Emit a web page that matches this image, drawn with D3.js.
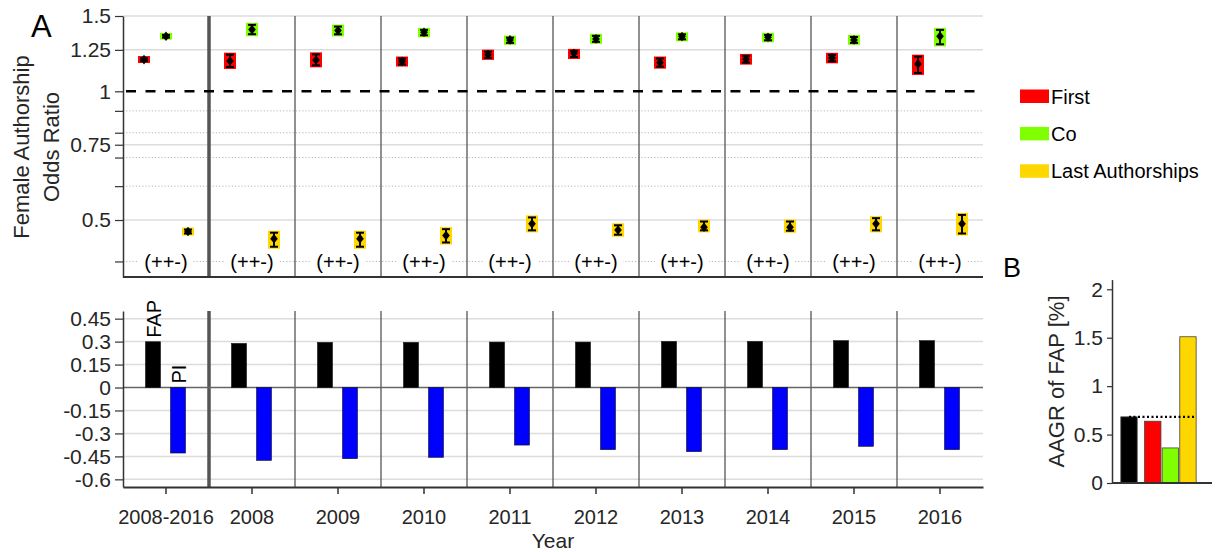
<!DOCTYPE html>
<html><head><meta charset="utf-8">
<script src="https://cdn.jsdelivr.net/npm/d3@7"></script>
<style>
html,body{margin:0;padding:0;background:#fff;}
svg{display:block;font-family:"Liberation Sans",Arial,Helvetica,sans-serif;}
</style></head><body>
<svg id="chart" width="1217" height="552"></svg>
<script>
// ---------------- DATA ----------------
const categories = ["2008-2016","2008","2009","2010","2011","2012","2013","2014","2015","2016"];
const seriesNames = ["First","Co","Last Authorships"];
const seriesColors = ["#ff0000","#80ff00","#ffd700"];

const orFirst   = [1.186, 1.177, 1.184, 1.175, 1.218, 1.227, 1.167, 1.188, 1.197, 1.159];
const orFirstLo = [1.177, 1.140, 1.150, 1.155, 1.197, 1.203, 1.142, 1.167, 1.175, 1.104];
const orFirstHi = [1.196, 1.218, 1.220, 1.193, 1.238, 1.243, 1.193, 1.210, 1.217, 1.205];

const orCo      = [1.345, 1.394, 1.387, 1.374, 1.319, 1.326, 1.343, 1.338, 1.319, 1.345];
const orCoLo    = [1.335, 1.360, 1.359, 1.352, 1.298, 1.305, 1.323, 1.316, 1.298, 1.288];
const orCoHi    = [1.355, 1.430, 1.417, 1.392, 1.335, 1.348, 1.359, 1.355, 1.340, 1.392];

const orLast    = [0.470, 0.452, 0.452, 0.460, 0.490, 0.474, 0.481, 0.481, 0.490, 0.490];
const orLastLo  = [0.465, 0.433, 0.433, 0.443, 0.473, 0.462, 0.473, 0.472, 0.473, 0.465];
const orLastHi  = [0.475, 0.467, 0.467, 0.476, 0.507, 0.486, 0.496, 0.496, 0.505, 0.514];

const signLabels = ["(++-)","(++-)","(++-)","(++-)","(++-)","(++-)","(++-)","(++-)","(++-)","(++-)"];

const orMajorTicks  = [0.5, 0.75, 1, 1.25, 1.5];
const orMajorLabels = ["0.5","0.75","1","1.25","1.5"];
const orMinorTicks  = [0.4, 0.6, 0.7, 0.8, 0.9];

const barNames  = ["FAP","PI"];
const barColors = ["#000000","#0000ff"];
const fapValues = [0.299, 0.288, 0.295, 0.295, 0.297, 0.297, 0.301, 0.301, 0.306, 0.306];
const piValues  = [-0.428, -0.476, -0.465, -0.456, -0.376, -0.406, -0.419, -0.406, -0.384, -0.406];
const barTicks  = [-0.6, -0.45, -0.3, -0.15, 0, 0.15, 0.3, 0.45];
const barTickLabels = ["-0.6","-0.45","-0.3","-0.15","0","0.15","0.3","0.45"];

const aagrNames  = ["All","First","Co","Last"];
const aagrValues = [0.683, 0.638, 0.362, 1.51];
const aagrColors = ["#000000","#ff0000","#80ff00","#ffd700"];
const aagrTicks  = [0, 0.5, 1, 1.5, 2];
const aagrTickLabels = ["0","0.5","1","1.5","2"];

// ---------------- LAYOUT ----------------
const svg = d3.select("#chart");
const textCol = "#262626";
const L = 123, R = 983;
const topY0 = 16, topY1 = 277;
const botY0 = 311, botY1 = 487;

const x = d3.scaleBand().domain(categories).range([L, R]);
const bw = x.bandwidth();
const xc = c => x(c) + bw / 2;
const xSeries = d3.scalePoint().domain(seriesNames).range([-22, 22]);
const xBar = d3.scaleBand().domain(barNames).range([-20.5, 19.5]).paddingInner(0.4);

const yOR = d3.scaleLog().domain([Math.exp(-1), 1.5]).range([topY1, topY0]);
const yBar = d3.scaleLinear().domain([-0.65, 0.5]).range([botY1, botY0]);

// ---------------- TOP PANEL ----------------
const gTop = svg.append("g");
gTop.selectAll("line.gmaj").data(orMajorTicks.filter(v => v !== 1)).enter().append("line")
  .attr("x1", L).attr("x2", R).attr("y1", d => yOR(d)).attr("y2", d => yOR(d))
  .attr("stroke", "#dcdcdc").attr("stroke-width", 1.5);
gTop.selectAll("line.gmin").data(orMinorTicks).enter().append("line")
  .attr("x1", L).attr("x2", R).attr("y1", d => yOR(d)).attr("y2", d => yOR(d))
  .attr("stroke", "#b5b5b5").attr("stroke-width", 1).attr("stroke-dasharray", "1.2,2");
gTop.selectAll("line.sep").data(categories.slice(1)).enter().append("line")
  .attr("x1", d => x(d)).attr("x2", d => x(d)).attr("y1", topY0).attr("y2", topY1)
  .attr("stroke", "#555").attr("stroke-width", (d, i) => i === 0 ? 3.5 : 1.3);
gTop.append("line").attr("x1", L + 3).attr("x2", R - 8).attr("y1", yOR(1)).attr("y2", yOR(1))
  .attr("stroke", "#000").attr("stroke-width", 2.5).attr("stroke-dasharray", "10,9.5");

const sg = gTop.selectAll("g.sign").data(categories).enter().append("g")
  .attr("transform", d => `translate(${xc(d)},${yOR(0.4)})`);
sg.append("rect").attr("x", -27).attr("y", -11).attr("width", 54).attr("height", 22).attr("fill", "#fff");
sg.append("text").attr("text-anchor", "middle").attr("dy", "0.36em")
  .attr("font-size", 20).attr("fill", "#000").text((d, i) => signLabels[i]);

const orSets = [
  {name: seriesNames[0], v: orFirst, lo: orFirstLo, hi: orFirstHi, c: seriesColors[0]},
  {name: seriesNames[1], v: orCo, lo: orCoLo, hi: orCoHi, c: seriesColors[1]},
  {name: seriesNames[2], v: orLast, lo: orLastLo, hi: orLastHi, c: seriesColors[2]}
];
const diamond = {draw(ctx, size){ const w = 3.8, h = 4.8; ctx.moveTo(0,-h); ctx.lineTo(w,0); ctx.lineTo(0,h); ctx.lineTo(-w,0); ctx.closePath(); }};
orSets.forEach(s => {
  const pts = categories.map((c, i) => ({c, v: s.v[i], lo: s.lo[i], hi: s.hi[i]}));
  const g = gTop.selectAll(null).data(pts).enter().append("g")
    .attr("transform", d => `translate(${xc(d.c) + xSeries(s.name)},0)`);
  g.append("rect").attr("x", -6).attr("width", 12)
    .attr("y", d => yOR(d.hi) - 2).attr("height", d => yOR(d.lo) - yOR(d.hi) + 4)
    .attr("fill", s.c);
  g.append("line").attr("x1", 0).attr("x2", 0).attr("y1", d => yOR(d.hi)).attr("y2", d => yOR(d.lo))
    .attr("stroke", "#000").attr("stroke-width", 2);
  g.append("line").attr("x1", -4).attr("x2", 4).attr("y1", d => yOR(d.hi)).attr("y2", d => yOR(d.hi))
    .attr("stroke", "#000").attr("stroke-width", 2);
  g.append("line").attr("x1", -4).attr("x2", 4).attr("y1", d => yOR(d.lo)).attr("y2", d => yOR(d.lo))
    .attr("stroke", "#000").attr("stroke-width", 2);
  g.append("path").attr("d", d3.symbol().type(diamond)())
    .attr("transform", d => `translate(0,${yOR(d.v)})`).attr("fill", "#000");
});

const allOrTicks = orMinorTicks.concat(orMajorTicks).sort((a, b) => a - b);
const axTop = gTop.append("g").attr("transform", `translate(${L},0)`)
  .call(d3.axisLeft(yOR).tickValues(allOrTicks).tickSize(8).tickSizeOuter(0).tickPadding(4)
    .tickFormat(d => { const k = orMajorTicks.indexOf(d); return k >= 0 ? orMajorLabels[k] : ""; }));
axTop.select(".domain").attr("stroke", "#333").attr("stroke-width", 1.5);
axTop.selectAll(".tick line").attr("stroke", "#333").attr("stroke-width", 1.2);
axTop.selectAll(".tick text").attr("font-size", 21).attr("fill", textCol).attr("font-family", null);
gTop.append("line").attr("x1", L).attr("x2", R).attr("y1", topY1).attr("y2", topY1)
  .attr("stroke", "#333").attr("stroke-width", 2);

const yl = svg.append("text").attr("transform", "translate(29,147) rotate(-90)")
  .attr("text-anchor", "middle").attr("font-size", 22).attr("fill", textCol);
yl.append("tspan").attr("x", 0).attr("dy", 0).text("Female Authorship");
yl.append("tspan").attr("x", 0).attr("dy", 30).text("Odds Ratio");

svg.append("text").attr("x", 31).attr("y", 37).attr("font-size", 31).attr("fill", "#000").text("A");

// ---------------- BOTTOM PANEL ----------------
const gBot = svg.append("g");
gBot.selectAll("line.bg").data(barTicks.filter(v => v !== 0)).enter().append("line")
  .attr("x1", L).attr("x2", R).attr("y1", d => yBar(d)).attr("y2", d => yBar(d))
  .attr("stroke", "#dcdcdc").attr("stroke-width", 1.5);
gBot.selectAll("line.sep").data(categories.slice(1)).enter().append("line")
  .attr("x1", d => x(d)).attr("x2", d => x(d)).attr("y1", botY0).attr("y2", botY1)
  .attr("stroke", "#555").attr("stroke-width", (d, i) => i === 0 ? 3.5 : 1.3);
gBot.append("line").attr("x1", L).attr("x2", R).attr("y1", yBar(0)).attr("y2", yBar(0))
  .attr("stroke", "#666").attr("stroke-width", 1.3);

const barSets = [
  {name: barNames[0], v: fapValues, c: barColors[0]},
  {name: barNames[1], v: piValues, c: barColors[1]}
];
barSets.forEach(s => {
  gBot.selectAll(null).data(categories.map((c, i) => ({c, v: s.v[i]}))).enter().append("rect")
    .attr("x", d => xc(d.c) + xBar(s.name)).attr("width", xBar.bandwidth())
    .attr("y", d => yBar(Math.max(0, d.v))).attr("height", d => Math.abs(yBar(d.v) - yBar(0)))
    .attr("fill", s.c).attr("stroke", "#111").attr("stroke-width", 0.6);
});
const c0 = categories[0];
gBot.append("text")
  .attr("transform", `translate(${xc(c0) + xBar("FAP") + xBar.bandwidth()},${yBar(fapValues[0]) - 4}) rotate(-90)`)
  .attr("font-size", 20).attr("fill", "#000").text("FAP");
gBot.append("text")
  .attr("transform", `translate(${xc(c0) + xBar("PI") + xBar.bandwidth()},${yBar(0) - 4}) rotate(-90)`)
  .attr("font-size", 20).attr("fill", "#000").text("PI");

const axBotY = gBot.append("g").attr("transform", `translate(${L},0)`)
  .call(d3.axisLeft(yBar).tickValues(barTicks).tickSize(8).tickSizeOuter(0).tickPadding(4)
    .tickFormat(d => barTickLabels[barTicks.indexOf(d)]));
axBotY.select(".domain").attr("stroke", "#333").attr("stroke-width", 1.5);
axBotY.selectAll(".tick line").attr("stroke", "#333").attr("stroke-width", 1.2);
axBotY.selectAll(".tick text").attr("font-size", 21).attr("fill", textCol).attr("font-family", null);

const axBotX = gBot.append("g").attr("transform", `translate(0,${botY1})`)
  .call(d3.axisBottom(x).tickSize(7).tickSizeOuter(0).tickPadding(16));
axBotX.select(".domain").attr("stroke", "#333").attr("stroke-width", 2);
axBotX.selectAll(".tick line").attr("stroke", "#333").attr("stroke-width", 1.5);
axBotX.selectAll(".tick text").attr("font-size", 20).attr("fill", textCol).attr("font-family", null);

svg.append("text").attr("x", (L + R) / 2).attr("y", 548).attr("text-anchor", "middle")
  .attr("font-size", 21).attr("fill", textCol).text("Year");

// ---------------- LEGEND ----------------
const lg = svg.append("g").selectAll("g").data(seriesNames).enter().append("g")
  .attr("transform", (d, i) => `translate(1020,${89.5 + i * 37.4})`);
lg.append("rect").attr("width", 29).attr("height", 13.5).attr("fill", (d, i) => seriesColors[i]);
lg.append("text").attr("x", 31).attr("y", 14).attr("font-size", 20).attr("fill", "#000").text(d => d);

// ---------------- PANEL B ----------------
const bL = 1112, bR = 1212, bY0 = 483, bTop = 279.6;
const xB = d3.scaleLinear().domain([0.034, 5.716]).range([bL, bR]);
const xBpos = d3.scaleOrdinal().domain(aagrNames).range([1, 2.35, 3.35, 4.35]);
const yB = d3.scaleLinear().domain([0, 2.1]).range([bY0, bTop]);
const bBarW = xB(1.93) - xB(1);
svg.selectAll("rect.aagr").data(aagrNames).enter().append("rect")
  .attr("x", d => xB(xBpos(d)) - bBarW / 2).attr("width", bBarW)
  .attr("y", (d, i) => yB(aagrValues[i])).attr("height", (d, i) => yB(0) - yB(aagrValues[i]))
  .attr("fill", (d, i) => aagrColors[i]).attr("stroke", "#444").attr("stroke-width", 0.8);
svg.append("line").attr("x1", xB(xBpos("All"))).attr("x2", xB(xBpos("Last")) + bBarW / 2)
  .attr("y1", yB(aagrValues[0])).attr("y2", yB(aagrValues[0]))
  .attr("stroke", "#000").attr("stroke-width", 2.2).attr("stroke-dasharray", "2,2.5");
const axB = svg.append("g").attr("transform", `translate(${bL},0)`)
  .call(d3.axisLeft(yB).tickValues(aagrTicks).tickSize(5).tickSizeOuter(0).tickPadding(4)
    .tickFormat(d => aagrTickLabels[aagrTicks.indexOf(d)]));
axB.select(".domain").attr("stroke", "#333").attr("stroke-width", 1.5);
axB.selectAll(".tick line").attr("stroke", "#333").attr("stroke-width", 1.2);
axB.selectAll(".tick text").attr("font-size", 21).attr("fill", textCol).attr("font-family", null);
svg.append("line").attr("x1", bL).attr("x2", bR).attr("y1", bY0).attr("y2", bY0)
  .attr("stroke", "#333").attr("stroke-width", 2);
svg.append("text").attr("transform", `translate(1064,381.5) rotate(-90)`).attr("text-anchor", "middle")
  .attr("font-size", 22).attr("fill", textCol).text("AAGR of FAP [%]");
svg.append("text").attr("x", 1003).attr("y", 277).attr("font-size", 27).attr("fill", "#000").text("B");
</script>
</body></html>
